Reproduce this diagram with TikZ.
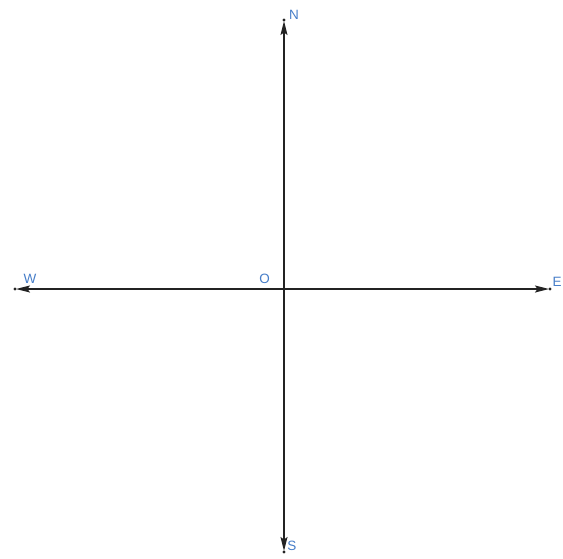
\documentclass[tikz,border=0pt]{standalone}
\usepackage{fontspec}
\setmainfont{Liberation Sans}
\usetikzlibrary{arrows.meta}
\definecolor{axis}{RGB}{35,35,35}
\definecolor{lbl}{RGB}{70,125,200}
\begin{document}
\begin{tikzpicture}[x=1pt,y=-1pt,
  axisline/.style={draw=axis,line width=1.6pt,shorten >=1pt,-{Stealth[length=14pt,width=7pt,inset=2.5pt]}},
  enddot/.style={circle,fill=axis,inner sep=0pt,minimum size=3.4pt},
  lab/.style={text=lbl,font=\fontsize{13.5}{13.5}\selectfont,inner sep=0pt}]
\useasboundingbox (0,0) rectangle (563,558);
\coordinate (O) at (284,289);
\node[enddot] (N) at (284,20) {};
\node[enddot] (S) at (284,552) {};
\node[enddot] (W) at (15,289) {};
\node[enddot] (E) at (550,289) {};
\draw[axisline] (O) -- (N.center);
\draw[axisline] (O) -- (S.center);
\draw[axisline] (O) -- (W.center);
\draw[axisline] (O) -- (E.center);
\node[lab] (lN) at (294,15) {N};
\node[lab] (lS) at (292,546) {S};
\node[lab] (lW) at (30,279) {W};
\node[lab] (lE) at (557,282) {E};
\node[lab] (lO) at (264.5,279) {O};
\end{tikzpicture}
\end{document}
